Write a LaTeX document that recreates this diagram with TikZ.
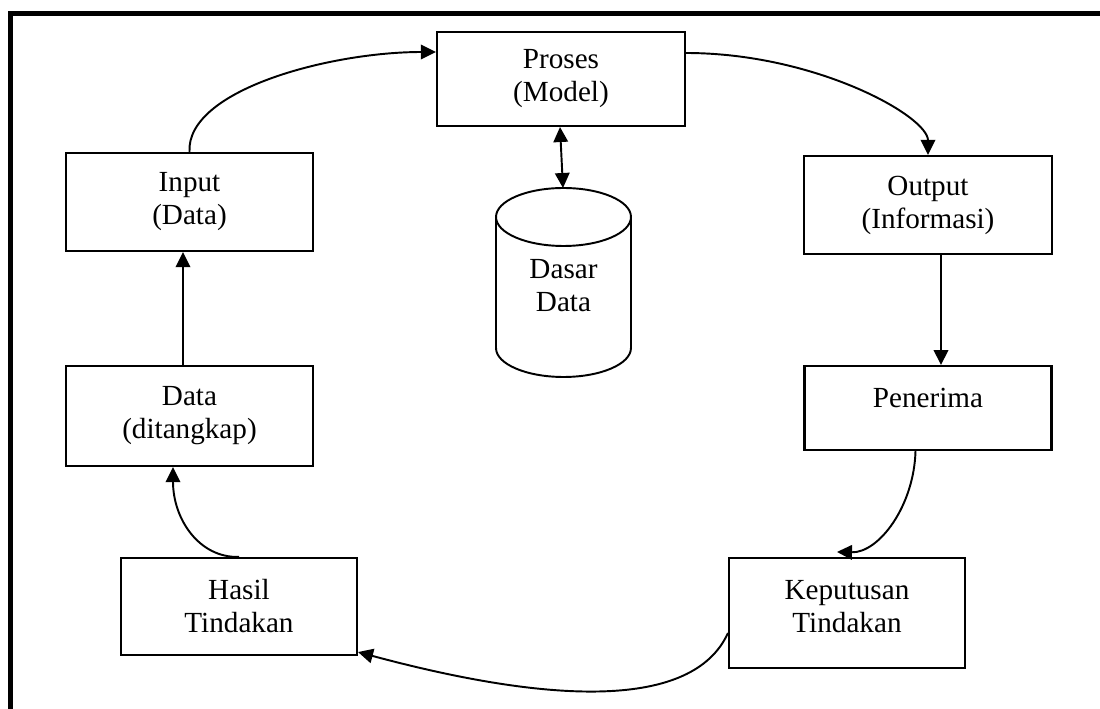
\documentclass[tikz,border=0pt]{standalone}
\usepackage{fontspec}
\setmainfont{Liberation Serif}
\usetikzlibrary{arrows.meta, positioning}

\begin{document}
\begin{tikzpicture}[x=0.02cm, y=-0.02cm, >={Triangle[length=0.3cm, width=0.29cm]},
    box/.style={draw, rectangle, line width=1.2pt, align=center,
                font=\fontsize{16.6pt}{18.8pt}\selectfont, inner sep=2pt},
    flow/.style={->, line width=1.1pt},
    node distance=0pt
  ]
  \useasboundingbox (0,0) rectangle (1100,709);

  % frame
  \draw[line width=3pt, line join=miter] (10.7,709) -- (10.7,13.5) -- (1100,13.5);

  \node[box, minimum width=4.96cm, minimum height=1.88cm] (proses) at (561,79) {Proses\\(Model)};
  \node[box, minimum width=4.94cm, minimum height=1.96cm] (input) at (189.5,202) {Input\\(Data)};
  \node[box, minimum width=4.94cm, minimum height=2.0cm, below=2.26cm of input] (data) {Data\\(ditangkap)};
  \node[box, minimum width=4.96cm, minimum height=1.96cm] (output) at (928,205) {Output\\(Informasi)};
  \node[box, minimum width=4.94cm, minimum height=1.68cm, text depth=0.4cm, below=2.2cm of output] (penerima) {Penerima};
  \node[box, minimum width=4.72cm, minimum height=1.94cm] (hasil) at (239,606.5) {Hasil\\Tindakan};
  \node[box, minimum width=4.72cm, minimum height=2.2cm, text depth=0.25cm] (keputusan) at (847,613) {Keputusan\\Tindakan};

  % database
  \draw[line width=1.1pt] (496,217) -- (496,348) arc[start angle=180, end angle=360, x radius=1.35cm, y radius=0.58cm] -- (631,217);
  \draw[line width=1.1pt] (563.5,217) ellipse[x radius=1.35cm, y radius=0.58cm];
  \node[align=center, font=\fontsize{16.6pt}{18.8pt}\selectfont] (db) at (563.5,286) {Dasar\\Data};
  \coordinate (dbtop) at (563,188);

  % proses <-> database
  \draw[<->, line width=1.1pt] ([xshift=-0.02cm]proses.south) -- (dbtop);

  % input -> proses
  \draw[flow] (input.north) .. controls (186,90) and (330,52) .. ([yshift=0.54cm]proses.west);

  % proses -> output
  \draw[flow] ([yshift=0.52cm]proses.east) .. controls (815,53) and (928,116) .. (output.north);

  % output -> penerima
  \draw[flow] ([xshift=0.26cm]output.south) -- ([xshift=0.26cm]output.south |- penerima.north);

  % penerima -> keputusan
  \draw[flow] ([xshift=-0.25cm]penerima.south) .. controls (914,506) and (879,553) .. ([xshift=-0.2cm, yshift=0.1cm]keputusan.north);

  % keputusan -> hasil
  \draw[flow] ([yshift=-0.4cm]keputusan.west) .. controls (693,710) and (551,704) .. ([yshift=0.08cm]hasil.south east);

  % hasil -> data
  \draw[flow] (hasil.north) .. controls (199,558) and (173,519) .. ([xshift=-0.33cm]data.south);

  % data -> input
  \draw[flow] ([xshift=-0.13cm]data.north) -- ([xshift=-0.13cm]input.south);
\end{tikzpicture}
\end{document}
